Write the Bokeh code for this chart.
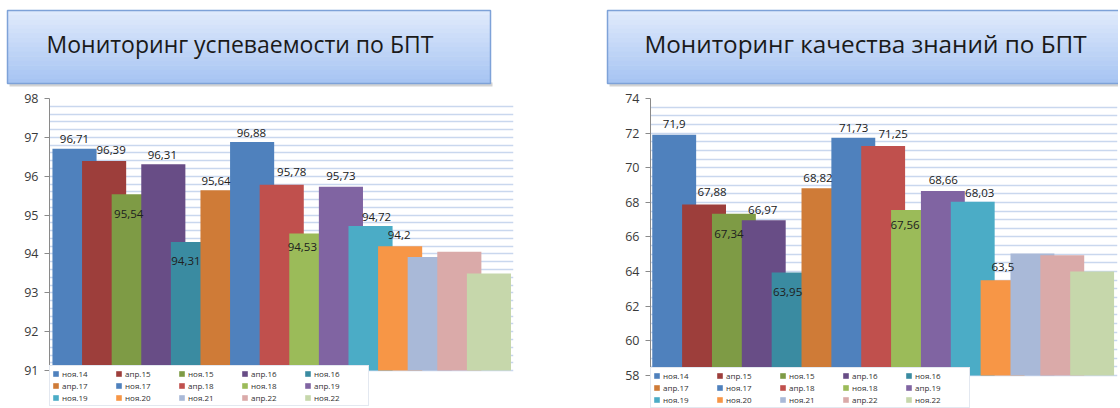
import numpy as np
from bokeh.plotting import figure
from bokeh.models import ColumnDataSource, Range1d, SingleIntervalTicker, Legend, LegendItem
from bokeh.layouts import row, column
from bokeh.embed import file_html
from bokeh.resources import INLINE
from bokeh.core.properties import value

# ---------------- data ----------------
categories = ["ноя.14", "апр.15", "ноя.15", "апр.16", "ноя.16",
              "апр.17", "ноя.17", "апр.18", "ноя.18", "апр.19",
              "ноя.19", "ноя.20", "ноя.21", "апр.22", "ноя.22"]
uspevaemost = [96.71, 96.39, 95.54, 96.31, 94.31, 95.64, 96.88, 95.78,
               94.53, 95.73, 94.72, 94.2, 93.92, 94.06, 93.5]
kachestvo = [71.9, 67.88, 67.34, 66.97, 63.95, 68.82, 71.73, 71.25,
             67.56, 68.66, 68.03, 63.5, 65.05, 64.95, 64.0]
labeled_count = 12  # only the first 12 bars carry data labels
title_left = "Мониторинг успеваемости по БПТ"
title_right = "Мониторинг качества знаний по БПТ"

# ---------------- style ----------------
colors = ["#4F81BD", "#9D3E3B", "#7E9B45", "#684D86", "#3A8BA1",
          "#CF7B37", "#4F81BD", "#C0504D", "#9BBB59", "#8064A2",
          "#4BACC6", "#F79646", "#A9B9D8", "#DAAAA9", "#C6D7AB"]
FONT = "Open Sans"
TITLE_H = 88

# label offsets in screen px (dx from bar centre, dy from bar top)
left_dx = [0, 7, -5, -1, -7, -6.5, -0.7, 10, -9, 0, 6, -1]
left_dy = [-9.4, -11.4, 20, -9.3, 19, -9.3, -9.3, -13, 13.7, -10.5, -9, -11]
right_dx = [0, 8, -5, -1, -6, -5.5, 0.4, 10, -8, 0.4, 7, 0.3]
right_dy = [-11.3, -12.4, 20, -10.5, 19.6, -10.6, -10, -12, 15.4, -10.6, -9, -13]


def hex_to_rgb(h):
    h = h.lstrip("#")
    return np.array([int(h[i:i + 2], 16) for i in (0, 2, 4)], dtype=float)


def rgb_to_hex(c):
    return "#%02x%02x%02x" % tuple(int(round(v)) for v in c)


def make_title(text, width, box, text_pos, text_size):
    """Decorative title panel: pixel-unit canvas, gradient box with shadow."""
    t = figure(width=width, height=TITLE_H, output_backend="svg", toolbar_location=None,
               x_range=Range1d(0, width), y_range=Range1d(TITLE_H, 0),
               min_border=0)
    t.axis.visible = False
    t.grid.visible = False
    t.outline_line_color = None
    l, r, top, bot = box
    t.quad(left=[l + 2], right=[r + 2], top=[bot - 1], bottom=[bot + 3],
           fill_color="#c8c8c8", fill_alpha=0.8, line_color=None)
    top_c, bot_c = hex_to_rgb("#e1ebfc"), hex_to_rgb("#a5c3f2")
    n = 16
    edges = np.linspace(top, bot, n + 1)
    cols = [rgb_to_hex(top_c + (bot_c - top_c) * (i + 0.5) / n) for i in range(n)]
    t.quad(left=[l] * n, right=[r] * n, top=list(edges[:-1]), bottom=list(edges[1:] + 0.6),
           fill_color=cols, line_color=None)
    t.quad(left=[l], right=[r], top=[top], bottom=[bot], fill_alpha=0,
           line_color="#7ea2d8", line_width=1.5)
    t.text(x=[text_pos[0]], y=[text_pos[1]], text=[text], text_align="center",
           text_baseline="middle", text_font=value(FONT), text_font_size=text_size,
           text_color="#1a1a1a")
    return t


def make_chart(vals, y0, y1, y_floor, grid_step, tick_step, dx, dy, width, height,
               bl, br, bt, xr, bar_w, legend_loc):
    n = len(vals)
    xs = list(np.arange(n))
    # the frame reaches the bottom of the figure so the legend can sit under the bars
    p = figure(width=width, height=height, output_backend="svg", toolbar_location=None,
               x_range=Range1d(*xr), y_range=Range1d(y_floor, y1),
               min_border_left=bl, min_border_right=br, min_border_top=bt,
               min_border_bottom=0)
    p.outline_line_color = None

    p.xaxis.visible = False
    p.xgrid.visible = False
    ax = p.yaxis[0]
    ax.bounds = (y0, y1)
    ax.ticker = SingleIntervalTicker(interval=tick_step)
    ax.axis_line_color = "#8a8a8a"
    ax.major_tick_line_color = "#8a8a8a"
    ax.major_tick_out = 5
    ax.major_tick_in = 0
    ax.minor_tick_line_color = None
    ax.major_label_text_font = FONT
    ax.major_label_text_font_size = "12.5px"
    ax.major_label_text_color = "#3a3a3a"
    ax.major_label_standoff = 6
    p.ygrid.ticker = SingleIntervalTicker(interval=grid_step)
    p.ygrid.bounds = (y0, y1)
    p.ygrid.grid_line_color = "#c9d7ee"
    p.ygrid.grid_line_width = 1.3

    src = ColumnDataSource(dict(x=xs, top=vals, cat=categories, color=colors))
    rend = p.vbar(x="x", top="top", bottom=y0, width=bar_w, source=src,
                  fill_color="color", line_color=None)

    lsrc = ColumnDataSource(dict(
        x=xs[:labeled_count], y=vals[:labeled_count],
        lbl=[("%g" % v).replace(".", ",") for v in vals[:labeled_count]],
        dx=dx, dy=dy))
    p.text(x="x", y="y", text="lbl", x_offset="dx", y_offset="dy", source=lsrc,
           text_align="center", text_baseline="middle", text_font=value(FONT),
           text_font_size="11.5px", text_color="#202020")

    items = [LegendItem(label=c, renderers=[rend], index=i) for i, c in enumerate(categories)]
    leg = Legend(items=items, location=legend_loc, orientation="horizontal", ncols=5,
                 label_text_font=FONT, label_text_font_size="8px",
                 label_text_color="#303030", glyph_width=7, glyph_height=7,
                 label_standoff=3, label_width=52, label_height=9, spacing=1,
                 padding=2, margin=0, border_line_color="#c8d2e2",
                 background_fill_color="white", background_fill_alpha=1)
    p.add_layout(leg)
    return p


W1, W2 = 592, 526
H = 408
t1 = make_title(title_left, W1, box=(7, 490, 10, 83), text_pos=(239.5, 43), text_size="23px")
t2 = make_title(title_right, W2, box=(15, 560, 10, 83), text_pos=(273, 43), text_size="24.3px")

# left: 98 at y=97, 91 at y=370 -> frame bottom (408) sits at 91 - 38/39
p1 = make_chart(uspevaemost, 91, 98, 91 - 38 / 39.0, 0.2, 1, left_dx, left_dy,
                width=W1, height=H - TITLE_H, bl=49, br=79, bt=9,
                xr=(-0.845, 14.83), bar_w=1.49, legend_loc=(0, 2))
# right: 74 at y=98, 58 at y=375 -> frame bottom sits at 58 - 33/17.31
p2 = make_chart(kachestvo, 58, 74, 58 - 33 / 17.31, 0.5, 2, right_dx, right_dy,
                width=W2, height=H - TITLE_H, bl=58, br=1, bt=10,
                xr=(-0.794, 14.85), bar_w=1.47, legend_loc=(0, 0))

layout = column(row(t1, t2), row(p1, p2))
open("out.html", "w").write(file_html(layout, INLINE))
